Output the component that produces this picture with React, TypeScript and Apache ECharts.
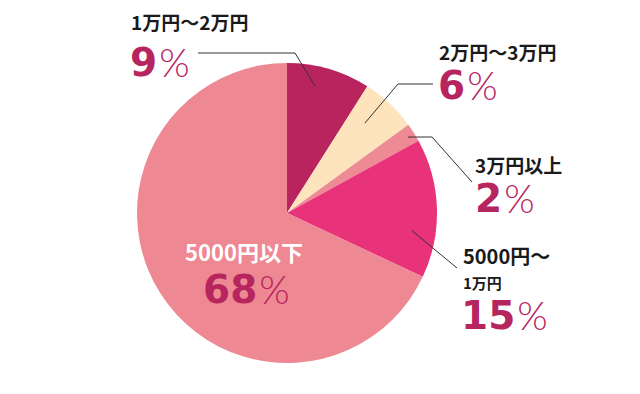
import React, { useEffect, useRef } from 'react';
import * as echarts from 'echarts';

// ---- data ----
const categories = ['1万円～2万円', '2万円～3万円', '3万円以上', '5000円～\n1万円', '5000円以下'];
const values = [9, 6, 2, 15, 68];
const colors = ['#b9245f', '#fde4bd', '#ee8a94', '#e8327a', '#ee8893'];

// ---- layout (positions only) ----
const CX = 287;
const CY = 213;
const R = 150;
const NUM_COLOR = '#b7255f';

type Layout = {
  tx: number; ty: number; lineGap: number; sizes: number[]; titleColor: string;
  nx: number; ny: number;
  angleOff: number; rFrac: number; knee?: number[]; end?: number[];
};

const layouts: Layout[] = [
  { tx: 131, ty: 21, lineGap: 0, sizes: [19], titleColor: '#1a1a1a', nx: 130, ny: 62, angleOff: -3.8, rFrac: 0.867, knee: [295, 53], end: [198, 53] },
  { tx: 439, ty: 51, lineGap: 0, sizes: [19], titleColor: '#1a1a1a', nx: 438, ny: 85, angleOff: -2.3, rFrac: 0.793, knee: [398, 84], end: [433, 84] },
  { tx: 475, ty: 164, lineGap: 0, sizes: [19], titleColor: '#1a1a1a', nx: 475, ny: 198, angleOff: 0.3, rFrac: 0.953, knee: [432, 137], end: [472, 182] },
  { tx: 463, ty: 255, lineGap: 27, sizes: [20, 15], titleColor: '#1a1a1a', nx: 461, ny: 315, angleOff: 9.8, rFrac: 0.84, end: [457, 268] },
  { tx: 185, ty: 251, lineGap: 0, sizes: [22], titleColor: '#ffffff', nx: 203, ny: 289, angleOff: 0, rFrac: 0 },
];

export default function App() {
  const ref = useRef<HTMLDivElement>(null);

  useEffect(() => {
    document.body.style.margin = '0';
    if (!ref.current) return;
    const chart = echarts.init(ref.current, undefined, { renderer: 'svg' });

    const total = values.reduce((a, b) => a + b, 0);
    const graphics: any[] = [];
    let cum = 0;
    values.forEach((v, i) => {
      const L = layouts[i];
      const mid = ((cum + v / 2) / total) * 360 + L.angleOff;
      cum += v;
      // title lines
      const lines = categories[i].split('\n');
      lines.forEach((line, j) => {
        graphics.push({
          type: 'text',
          x: L.tx,
          y: L.ty + j * L.lineGap,
          z: 100,
          silent: true,
          style: {
            text: line,
            fontFamily: '"Noto Sans CJK JP", sans-serif',
            fontWeight: 'bold',
            fontSize: L.sizes[j] ?? L.sizes[0],
            lineHeight: (L.sizes[j] ?? L.sizes[0]) + 2,
            fill: L.titleColor,
            align: 'left',
            verticalAlign: 'middle',
          },
        });
      });
      // percentage
      graphics.push({
        type: 'text',
        x: L.nx,
        y: L.ny,
        z: 100,
        silent: true,
        style: {
          text: `{n|${v}}{p|%}`,
          align: 'left',
          verticalAlign: 'middle',
          rich: {
            n: { fontFamily: '"DejaVu Sans", sans-serif', fontWeight: 'bold', fontSize: 39, lineHeight: 30, fill: NUM_COLOR },
            p: { fontFamily: 'Lato, sans-serif', fontWeight: 300, fontSize: 39, lineHeight: 30, fill: NUM_COLOR, padding: [0, 0, 0, 2] },
          },
        },
      });
      // leader line
      if (L.end) {
        const a = (mid * Math.PI) / 180;
        const ax = CX + R * L.rFrac * Math.sin(a);
        const ay = CY - R * L.rFrac * Math.cos(a);
        const pts = L.knee ? [[ax, ay], L.knee, L.end] : [[ax, ay], L.end];
        graphics.push({
          type: 'polyline',
          silent: true,
          z: 90,
          shape: { points: pts },
          style: { stroke: '#333333', lineWidth: 1, fill: 'none' },
        });
      }
    });

    chart.setOption({
      animation: false,
      backgroundColor: '#ffffff',
      series: [
        {
          type: 'pie',
          center: [CX, CY],
          radius: R,
          startAngle: 90,
          clockwise: true,
          silent: true,
          z: 1,
          label: { show: false },
          labelLine: { show: false },
          emphasis: { disabled: true },
          itemStyle: { borderWidth: 0 },
          data: values.map((v, i) => ({
            name: categories[i],
            value: v,
            itemStyle: { color: colors[i] },
          })),
        },
      ],
      graphic: graphics,
    });

    return () => chart.dispose();
  }, []);

  return <div ref={ref} style={{ width: 640, height: 394 }} />;
}
